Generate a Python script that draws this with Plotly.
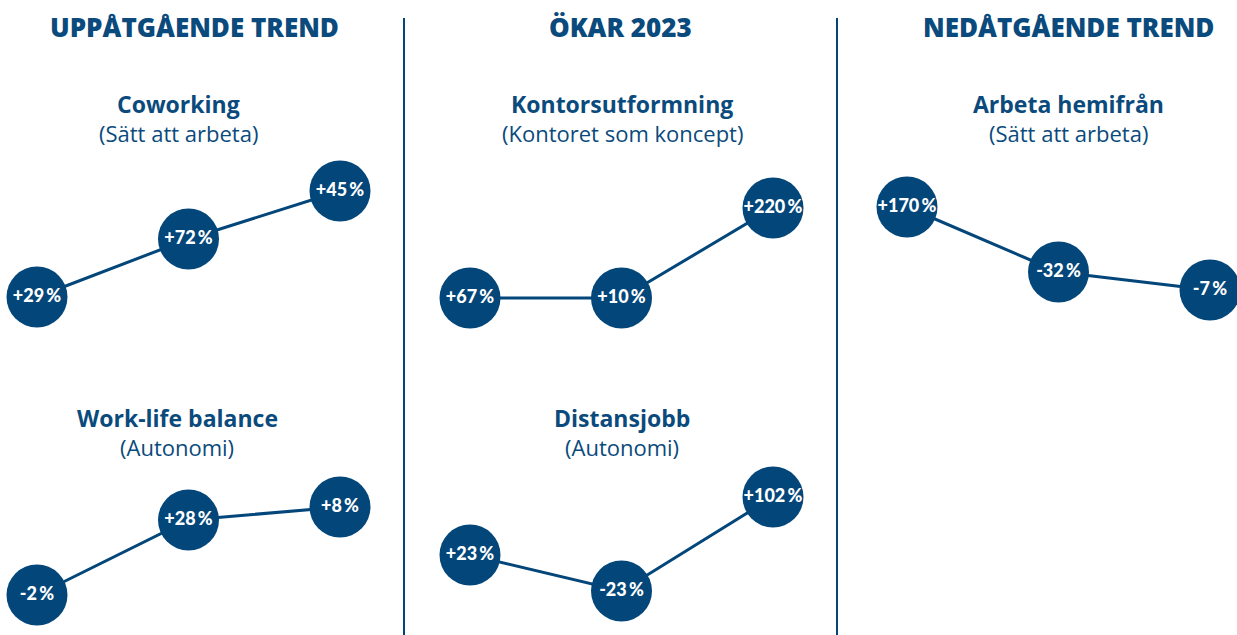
import plotly.graph_objects as go

# ---------------- data ----------------
section_headers = ["UPPÅTGÅENDE TREND", "ÖKAR 2023", "NEDÅTGÅENDE TREND"]

panel_titles = ["Coworking", "Kontorsutformning", "Arbeta hemifrån",
                "Work-life balance", "Distansjobb"]
panel_subtitles = ["(Sätt att arbeta)", "(Kontoret som koncept)", "(Sätt att arbeta)",
                   "(Autonomi)", "(Autonomi)"]

steps = [0, 1, 2]

coworking_labels = ["+29\u2009%", "+72\u2009%", "+45\u2009%"]
kontor_labels = ["+67\u2009%", "+10\u2009%", "+220\u2009%"]
hemifran_labels = ["+170\u2009%", "-32\u2009%", "-7\u2009%"]
worklife_labels = ["-2\u2009%", "+28\u2009%", "+8\u2009%"]
distans_labels = ["+23\u2009%", "-23\u2009%", "+102\u2009%"]

# relative vertical position of each bubble
coworking_level = [33, 91, 139]
kontor_level = [32, 32, 122]
hemifran_level = [123, 58, 40]
worklife_level = [40, 115, 128]
distans_level = [80, 44, 138]

labels = [coworking_labels, kontor_labels, hemifran_labels, worklife_labels, distans_labels]
levels = [coworking_level, kontor_level, hemifran_level, worklife_level, distans_level]

# ---------------- layout / style ----------------
W, H = 1237, 635
BLUE = "#03467A"
TXT = "#0A4A7C"
FONT = "Open Sans"
BUBBLE_FONT = "Lato"

x0_px = [37, 470, 907, 37, 470]          # pixel x of first bubble per panel
unit = 151.5                              # pixels between steps
bands = [(150, 330), (150, 330), (150, 330), (460, 635), (460, 635)]

fig = go.Figure()
layout = {}
for i in range(5):
    n = "" if i == 0 else str(i + 1)
    left = max(0, x0_px[i] - 36)
    right = min(W, x0_px[i] + 2 * unit + 36)
    r0 = -(x0_px[i] - left) / unit
    r1 = (right - x0_px[i]) / unit
    top, bot = bands[i]
    layout["xaxis" + n] = dict(domain=[left / W, right / W], range=[r0, r1],
                               visible=False, fixedrange=True)
    layout["yaxis" + n] = dict(domain=[1 - bot / H, 1 - top / H], range=[0, bot - top],
                               visible=False, fixedrange=True)
    fig.add_trace(go.Scatter(
        x=steps, y=levels[i], xaxis="x" + n, yaxis="y" + n,
        mode="lines+markers+text",
        line=dict(color=BLUE, width=3),
        marker=dict(size=61, color=BLUE, line=dict(width=0)),
        text=labels[i], textposition="middle center",
        textfont=dict(family=BUBBLE_FONT, size=18, color="white", weight=900),
        cliponaxis=False, showlegend=False, hoverinfo="skip"))

annotations = []
header_x = [194, 620, 1068]
for hx, t in zip(header_x, section_headers):
    annotations.append(dict(x=hx / W, y=1 - 27 / H, xref="paper", yref="paper",
                            text=t, showarrow=False, xanchor="center", yanchor="middle",
                            font=dict(family=FONT, size=26, color=TXT, weight=800)))

title_pos = [(178, 104), (622, 104), (1068, 104), (177, 418), (622, 418)]
for (tx, ty), t, s in zip(title_pos, panel_titles, panel_subtitles):
    annotations.append(dict(x=tx / W, y=1 - ty / H, xref="paper", yref="paper",
                            text=t, showarrow=False, xanchor="center", yanchor="middle",
                            font=dict(family=FONT, size=23, color=TXT, weight="bold")))
    annotations.append(dict(x=tx / W, y=1 - (ty + 29) / H, xref="paper", yref="paper",
                            text=s, showarrow=False, xanchor="center", yanchor="middle",
                            font=dict(family=FONT, size=22, color=TXT)))

shapes = []
for dx in [404, 837]:
    shapes.append(dict(type="line", xref="paper", yref="paper",
                       x0=dx / W, x1=dx / W, y0=0, y1=1 - 18 / H,
                       line=dict(color=BLUE, width=2)))

fig.update_layout(width=W, height=H, margin=dict(l=0, r=0, t=0, b=0),
                  paper_bgcolor="white", plot_bgcolor="white",
                  annotations=annotations, shapes=shapes, **layout)

fig.write_html("out.html", config={"displayModeBar": False})
